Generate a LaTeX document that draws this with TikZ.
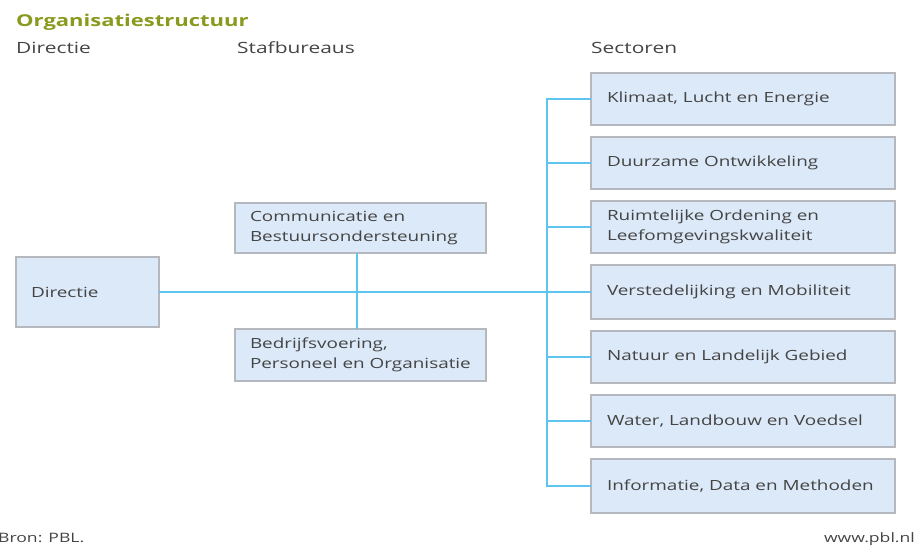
\documentclass[tikz,border=0pt]{standalone}
\usepackage{fontspec}
\setmainfont[FakeStretch=1.35]{Open Sans}
\definecolor{olive}{HTML}{8A9A1E}
\definecolor{txt}{HTML}{444444}
\definecolor{boxfill}{HTML}{DBE9F8}
\definecolor{boxline}{HTML}{B5B8BC}
\definecolor{conn}{HTML}{5CC6EE}
\tikzset{
  lbl/.style={anchor=west, text=txt, font=\fontsize{14}{20}\selectfont, align=left, inner sep=0pt},
  hdr/.style={anchor=base west, text=txt, font=\fontsize{15.5}{18}\selectfont, inner sep=0pt},
  link/.style={draw=conn, line width=1.4pt}
}
\begin{document}
\begin{tikzpicture}[x=1pt,y=-1pt]
\useasboundingbox (0,0) rectangle (919,546);
% title and headers
\node[anchor=base west, text=olive, font=\fontsize{16.3}{18}\selectfont\bfseries, inner sep=0pt] (title) at (16,26) {Organisatiestructuur};
\node[hdr] (h1) at (16,53) {Directie};
\node[hdr] (h2) at (237,53) {Stafbureaus};
\node[hdr] (h3) at (591,53) {Sectoren};
% boxes
\newcommand{\bx}[5]{%
  \path[draw=boxline, fill=boxfill, line width=1.2pt] (#2,#3) rectangle (#4,#5);
  \node[draw=none, minimum width=#4-#2, minimum height=#5-#3, inner sep=0pt] (#1) at ({(#2+#4)/2},{(#3+#5)/2}) {};}
\bx{dir}{16}{257}{159}{327}
\bx{com}{235}{203}{486}{253}
\bx{bed}{235}{329}{486}{381}
\bx{s1}{591}{73}{895}{125}
\bx{s2}{591}{137}{895}{189}
\bx{s3}{591}{201}{895}{253}
\bx{s4}{591}{265}{895}{319}
\bx{s5}{591}{331}{895}{383}
\bx{s6}{591}{395}{895}{447}
\bx{s7}{591}{459}{895}{513}
\node[lbl] (tdir) at ([xshift=15pt]dir.west) {Directie};
\node[lbl] (tcom) at ([xshift=15pt]com.west) {Communicatie en\\Bestuursondersteuning};
\node[lbl] (tbed) at ([xshift=15pt]bed.west) {Bedrijfsvoering,\\Personeel en Organisatie};
\node[lbl] (t1) at ([xshift=16pt]s1.west) {Klimaat, Lucht en Energie};
\node[lbl] (t2) at ([xshift=16pt]s2.west) {Duurzame Ontwikkeling};
\node[lbl] (t3) at ([xshift=16pt]s3.west) {Ruimtelijke Ordening en\\Leefomgevingskwaliteit};
\node[lbl] (t4) at ([xshift=16pt]s4.west) {Verstedelijking en Mobiliteit};
\node[lbl] (t5) at ([xshift=16pt]s5.west) {Natuur en Landelijk Gebied};
\node[lbl] (t6) at ([xshift=16pt]s6.west) {Water, Landbouw en Voedsel};
\node[lbl] (t7) at ([xshift=16pt]s7.west) {Informatie, Data en Methoden};
% connectors
\coordinate (spine) at (547,292);
\coordinate (mid) at (357,292);
\draw[link] (dir.east) -- (spine);
\draw[link] (com.south -| mid) -- (bed.north -| mid);
\draw[link] (s1.west) -| (spine) |- (s7.west);
\foreach \s in {s2,s3,s4,s5,s6} \draw[link] (\s.west) -- (\s.west -| spine);
% footer
\node[anchor=base west, text=txt, font=\fontsize{13}{14}\selectfont, inner sep=0pt] (bron) at (-2,542) {Bron: PBL.};
\node[anchor=base east, text=txt, font=\fontsize{13}{14}\selectfont, inner sep=0pt] (www) at (915,542) {www.pbl.nl};
\end{tikzpicture}
\end{document}
